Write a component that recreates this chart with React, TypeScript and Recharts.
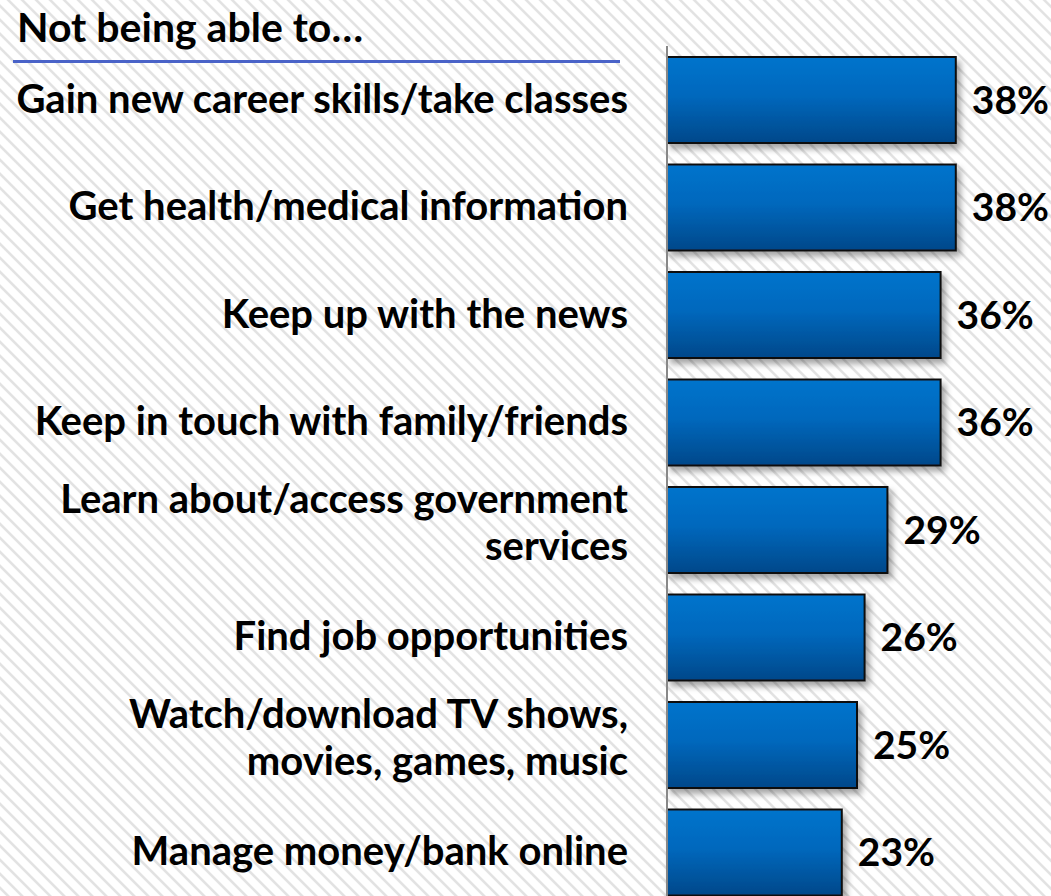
import { BarChart, Bar, XAxis, YAxis, LabelList } from 'recharts'

const categories = [
  'Gain new career skills/take classes',
  'Get health/medical information',
  'Keep up with the news',
  'Keep in touch with family/friends',
  'Learn about/access government|services',
  'Find job opportunities',
  'Watch/download TV shows,|movies, games, music',
  'Manage money/bank online',
]

const values = [38, 38, 36, 36, 29, 26, 25, 23]

const data = categories.map((name, i) => ({ name, value: values[i] }))

const FONT = 'Lato, "Open Sans", sans-serif'

const CategoryTick = (props: any) => {
  const { x, y, payload } = props
  const lines: string[] = String(payload.value).split('|')
  const lineGap = 47
  // two-line labels sit a little higher than their band centre
  const startY = y + 13 - (lines.length - 1) * (lineGap / 2 + 6.5)
  return (
    <text
      x={x}
      y={startY}
      textAnchor="end"
      fill="#000"
      fontFamily={FONT}
      fontWeight="bold"
      fontSize={40}
    >
      {lines.map((line, i) => (
        <tspan key={i} x={x} y={startY + i * lineGap}>
          {line}
        </tspan>
      ))}
    </text>
  )
}

export default function App() {
  return (
    <div
      style={{
        position: 'absolute',
        left: 0,
        top: 0,
        width: 1051,
        height: 896,
        overflow: 'hidden',
        background:
          'repeating-linear-gradient(45deg, #ffffff 0px, #ffffff 4px, #e2e2e2 5px, #e2e2e2 6.5px, #ffffff 7.5px, #ffffff 9.9px)',
      }}
    >
      <div
        style={{
          position: 'absolute',
          left: 17,
          top: 5,
          fontFamily: FONT,
          fontWeight: 'bold',
          fontSize: 41,
          color: '#000',
          lineHeight: '44px',
        }}
      >
        Not being able to…
      </div>
      <div
        style={{
          position: 'absolute',
          left: 13,
          top: 60,
          width: 607,
          height: 3,
          background: '#4a63c8',
        }}
      />
      <div style={{ position: 'absolute', left: 0, top: 0 }}>
        <BarChart
          width={1051}
          height={920}
          data={data}
          layout="vertical"
          barSize={86}
          margin={{ top: 46, right: 4, bottom: 14, left: 0 }}
        >
          <defs>
            <linearGradient id="barFill" x1="0" y1="0" x2="0" y2="1">
              <stop offset="0%" stopColor="#0074cc" />
              <stop offset="45%" stopColor="#0068bd" />
              <stop offset="100%" stopColor="#00488a" />
            </linearGradient>
            <filter id="barShadow" x="-10%" y="-20%" width="130%" height="160%">
              <feDropShadow dx="4" dy="5" stdDeviation="3" floodColor="#000" floodOpacity="0.35" />
            </filter>
          </defs>
          <XAxis type="number" domain={[0, 50]} hide />
          <YAxis
            type="category"
            dataKey="name"
            width={667}
            axisLine={{ stroke: '#888', strokeWidth: 2 }}
            tickLine={false}
            tickSize={0}
            tickMargin={39}
            tick={<CategoryTick />}
            interval={0}
          />
          <Bar
            dataKey="value"
            fill="url(#barFill)"
            stroke="#111"
            strokeWidth={2}
            filter="url(#barShadow)"
            isAnimationActive={false}
          >
            <LabelList
              dataKey="value"
              position="right"
              offset={16}
              formatter={(v: any) => `${v}%`}
              fill="#000"
              fontFamily={FONT}
              fontWeight="bold"
              fontSize={39}
            />
          </Bar>
        </BarChart>
      </div>
    </div>
  )
}
